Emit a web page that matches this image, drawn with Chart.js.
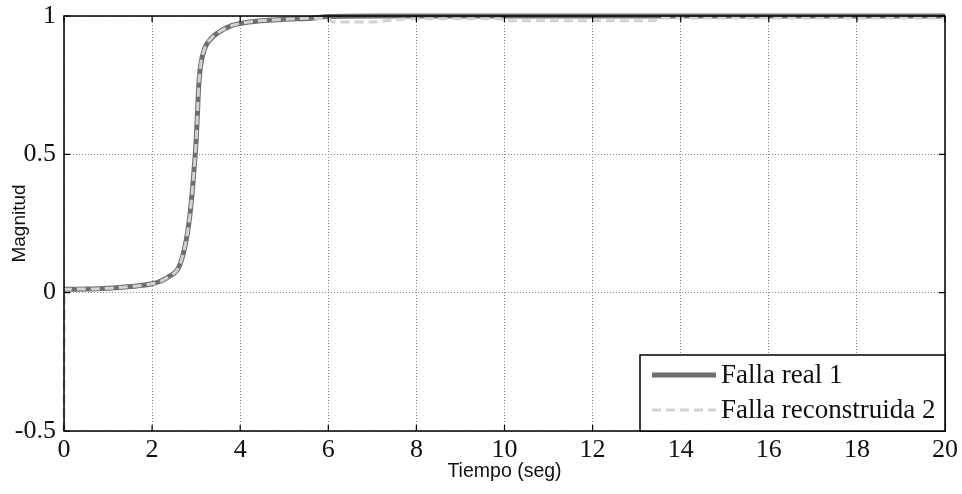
<!DOCTYPE html>
<html lang="es">
<head>
    <meta charset="UTF-8">
    <title>Falla real vs reconstruida</title>
    <script src="https://cdn.jsdelivr.net/npm/chart.js"></script>
    <style>
        body { margin: 0; background: #fff; }
        .wrap { width: 962px; height: 494px; position: relative; }
    </style>
</head>
<body>
<div class="wrap">
    <canvas id="fallaChart"></canvas>
</div>
<script>
    // tiempo (seg) / magnitud
    const realX = [0, 0.5, 1, 1.5, 2, 2.2, 2.4, 2.6, 2.75, 2.85, 2.92, 2.97, 3.0, 3.03, 3.06, 3.1, 3.2, 3.35, 3.5, 3.8, 4.2, 5.0, 5.6, 6.0, 7.0, 20];
    const realY = [0.012, 0.013, 0.016, 0.022, 0.032, 0.042, 0.06, 0.09, 0.17, 0.27, 0.38, 0.48, 0.55, 0.65, 0.75, 0.82, 0.885, 0.92, 0.94, 0.965, 0.978, 0.988, 0.992, 0.998, 1.0, 1.0];

    const recX = [0, 0.01, 0.5, 1, 1.5, 2, 2.2, 2.4, 2.6, 2.75, 2.85, 2.92, 2.97, 3.0, 3.03, 3.06, 3.1, 3.2, 3.35, 3.5, 3.8, 4.2, 5.0, 5.6, 6.0, 6.1, 7.0, 7.3, 8.0, 9.9, 10.0, 13.4, 13.5, 20];
    const recY = [-0.5, 0.012, 0.013, 0.016, 0.022, 0.032, 0.042, 0.06, 0.09, 0.17, 0.27, 0.38, 0.48, 0.55, 0.65, 0.75, 0.82, 0.885, 0.92, 0.94, 0.965, 0.978, 0.988, 0.992, 0.99, 0.978, 0.978, 0.983, 0.99, 0.99, 0.983, 0.983, 0.993, 0.993];

    const seriesNames = ['Falla real 1', 'Falla reconstruida 2'];
    const xTicks = [0, 2, 4, 6, 8, 10, 12, 14, 16, 18, 20];
    const yTicks = [-0.5, 0, 0.5, 1];
    const yTickLabels = ['-0.5', '0', '0.5', '1'];

    const serif = "'Liberation Serif', 'Times New Roman', serif";
    const sans = "'Liberation Sans', Arial, sans-serif";

    function toPoints(xs, ys) {
        return xs.map((x, i) => ({ x: x, y: ys[i] }));
    }

    // marco, marcas interiores y leyenda en la esquina
    const framePlugin = {
        id: 'frame',
        afterDraw(chart) {
            const ctx = chart.ctx;
            const a = chart.chartArea;
            const xs = chart.scales.x, ys = chart.scales.y;
            ctx.save();
            ctx.strokeStyle = '#000';
            ctx.lineWidth = 1.5;
            ctx.strokeRect(a.left, a.top, a.right - a.left, a.bottom - a.top);
            ctx.lineWidth = 1.2;
            ctx.beginPath();
            xTicks.forEach(v => {
                const px = xs.getPixelForValue(v);
                ctx.moveTo(px, a.bottom); ctx.lineTo(px, a.bottom - 6);
                ctx.moveTo(px, a.top); ctx.lineTo(px, a.top + 6);
            });
            yTicks.forEach(v => {
                const py = ys.getPixelForValue(v);
                ctx.moveTo(a.left, py); ctx.lineTo(a.left + 6, py);
                ctx.moveTo(a.right, py); ctx.lineTo(a.right - 6, py);
            });
            ctx.stroke();

            // leyenda
            const w = 305, h = 76;
            const bx = a.right - w, by = a.bottom - h;
            ctx.fillStyle = '#fff';
            ctx.fillRect(bx, by, w, h);
            ctx.lineWidth = 1.5;
            ctx.strokeStyle = '#000';
            ctx.strokeRect(bx, by, w, h);
            chart.data.datasets.forEach((ds, i) => {
                const ry = by + 20 + i * 35;
                ctx.beginPath();
                ctx.strokeStyle = ds.borderColor;
                ctx.lineWidth = ds.borderWidth;
                ctx.setLineDash(ds.borderDash || []);
                ctx.moveTo(bx + 12, ry);
                ctx.lineTo(bx + 76, ry);
                ctx.stroke();
                ctx.setLineDash([]);
                ctx.fillStyle = '#111';
                ctx.font = '27px ' + serif;
                ctx.textBaseline = 'middle';
                ctx.textAlign = 'left';
                ctx.fillText(ds.label, bx + 81, ry + 1);
            });
            ctx.restore();
        }
    };

    function plotChart() {
        const ctx = document.getElementById('fallaChart').getContext('2d');
        new Chart(ctx, {
            type: 'line',
            data: {
                datasets: [
                    {
                        label: seriesNames[0],
                        data: toPoints(realX, realY),
                        borderColor: '#6e6e6e',
                        borderWidth: 5,
                        pointRadius: 0,
                        cubicInterpolationMode: 'monotone',
                        order: 2,
                        clip: 6
                    },
                    {
                        label: seriesNames[1],
                        data: toPoints(recX, recY),
                        borderColor: '#d2d2d2',
                        borderWidth: 3,
                        borderDash: [9, 5],
                        pointRadius: 0,
                        cubicInterpolationMode: 'monotone',
                        order: 1,
                        clip: 6
                    }
                ]
            },
            options: {
                responsive: true,
                maintainAspectRatio: false,
                animation: false,
                layout: { padding: { top: 16, right: 16, left: 0, bottom: 0 } },
                plugins: {
                    legend: { display: false },
                    tooltip: { enabled: false }
                },
                scales: {
                    x: {
                        type: 'linear',
                        min: 0,
                        max: 20,
                        afterBuildTicks: scale => { scale.ticks = xTicks.map(v => ({ value: v })); },
                        afterFit: scale => { scale.height = 63; },
                        grid: { color: '#8a8a8a', lineWidth: 1, drawTicks: false },
                        border: { display: false, dash: [1, 2] },
                        ticks: {
                            color: '#111',
                            padding: 4,
                            maxRotation: 0,
                            font: { family: serif, size: 26 }
                        },
                        title: {
                            display: true,
                            text: 'Tiempo (seg)',
                            color: '#111',
                            padding: { top: 0, bottom: 11 },
                            font: { family: sans, size: 19.5 }
                        }
                    },
                    y: {
                        min: -0.5,
                        max: 1,
                        afterBuildTicks: scale => { scale.ticks = yTicks.map(v => ({ value: v })); },
                        afterFit: scale => {
                            scale.width = 64;
                            scale.paddingTop = 0;
                            scale.paddingBottom = 0;
                        },
                        grid: { color: '#8a8a8a', lineWidth: 1, drawTicks: false },
                        border: { display: false, dash: [1, 2] },
                        ticks: {
                            color: '#111',
                            padding: 8,
                            font: { family: serif, size: 26 },
                            callback: value => yTickLabels[yTicks.indexOf(value)]
                        },
                        title: {
                            display: true,
                            text: 'Magnitud',
                            color: '#111',
                            padding: { top: 8, bottom: 0 },
                            font: { family: sans, size: 19 }
                        }
                    }
                }
            },
            plugins: [framePlugin]
        });
    }

    document.addEventListener('DOMContentLoaded', plotChart);
</script>
</body>
</html>
